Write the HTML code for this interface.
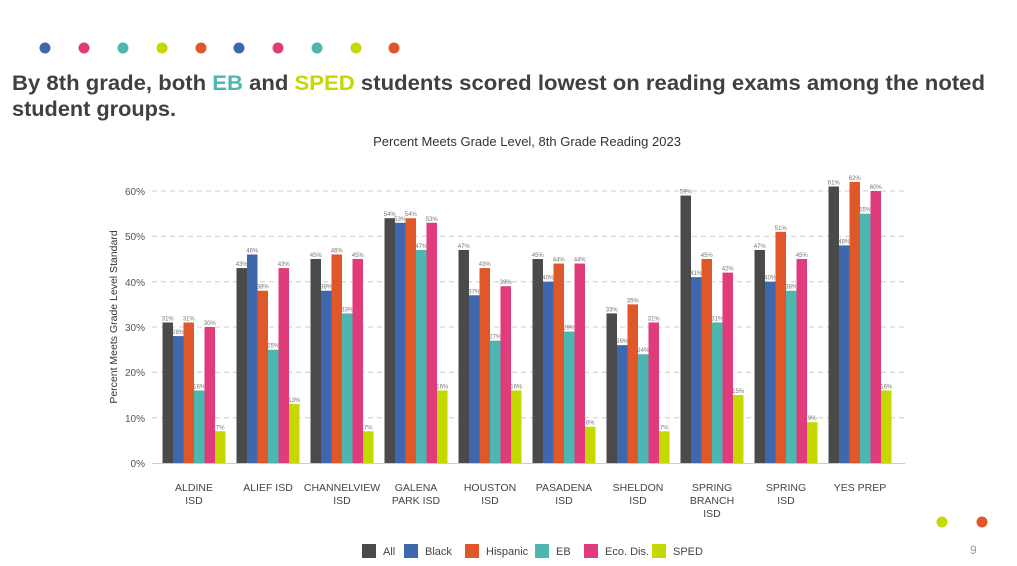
<!DOCTYPE html>
<html><head><meta charset="utf-8"><style>
html,body{margin:0;padding:0;background:#fff;}
svg{display:block;font-family:"Liberation Sans",Arial,sans-serif;}
</style></head><body>
<svg width="1017" height="566" viewBox="0 0 1017 566" xmlns="http://www.w3.org/2000/svg">
<g>
<circle cx="45" cy="48" r="5.5" fill="#3f67ad"/>
<circle cx="84" cy="48" r="5.5" fill="#e03c7b"/>
<circle cx="123" cy="48" r="5.5" fill="#4db6b0"/>
<circle cx="162" cy="48" r="5.5" fill="#c5d800"/>
<circle cx="201" cy="48" r="5.5" fill="#e0572a"/>
<circle cx="239" cy="48" r="5.5" fill="#3f67ad"/>
<circle cx="278" cy="48" r="5.5" fill="#e03c7b"/>
<circle cx="317" cy="48" r="5.5" fill="#4db6b0"/>
<circle cx="356" cy="48" r="5.5" fill="#c5d800"/>
<circle cx="394" cy="48" r="5.5" fill="#e0572a"/>
<circle cx="942" cy="522" r="5.5" fill="#c5d800"/>
<circle cx="982" cy="522" r="5.5" fill="#e0572a"/>
</g>
<text x="12" y="90" font-size="21" font-weight="bold" fill="#404040" textLength="973" lengthAdjust="spacingAndGlyphs">By 8th grade, both <tspan fill="#4db6b0">EB</tspan> and <tspan fill="#c5d800">SPED</tspan> students scored lowest on reading exams among the noted</text>
<text x="12" y="116" font-size="21" font-weight="bold" fill="#404040" textLength="164" lengthAdjust="spacingAndGlyphs">student groups.</text>
<text x="527" y="146" font-size="13" fill="#333" text-anchor="middle">Percent Meets Grade Level, 8th Grade Reading 2023</text>
<g font-size="10" fill="#555" text-anchor="end">
<text x="145" y="467">0%</text><text x="145" y="422">10%</text><text x="145" y="376">20%</text>
<text x="145" y="331">30%</text><text x="145" y="286">40%</text><text x="145" y="240">50%</text><text x="145" y="195">60%</text>
</g>
<text transform="translate(117,317) rotate(-90)" font-size="10.5" fill="#333" text-anchor="middle">Percent Meets Grade Level Standard</text>
<g stroke="#ccc" stroke-dasharray="5,4" stroke-width="1">
<line x1="152" x2="905" y1="191" y2="191"/><line x1="152" x2="905" y1="236.3" y2="236.3"/>
<line x1="152" x2="905" y1="281.7" y2="281.7"/><line x1="152" x2="905" y1="327" y2="327"/>
<line x1="152" x2="905" y1="372.3" y2="372.3"/><line x1="152" x2="905" y1="417.7" y2="417.7"/>
</g>
<line x1="152" x2="905" y1="463.5" y2="463.5" stroke="#ccc" stroke-width="1"/>
<g id="bars"></g>
<g font-size="10.5" fill="#444" text-anchor="middle" id="labels"></g>
<g font-size="11" fill="#444">
<rect x="362" y="544" width="14" height="14" fill="#4a4a4a"/><text x="383" y="555">All</text>
<rect x="404" y="544" width="14" height="14" fill="#3f67ad"/><text x="425" y="555">Black</text>
<rect x="465" y="544" width="14" height="14" fill="#e0572a"/><text x="486" y="555">Hispanic</text>
<rect x="535" y="544" width="14" height="14" fill="#4db6b0"/><text x="556" y="555">EB</text>
<rect x="584" y="544" width="14" height="14" fill="#e03c7b"/><text x="605" y="555">Eco. Dis.</text>
<rect x="652" y="544" width="14" height="14" fill="#c5d800"/><text x="673" y="555">SPED</text>
</g>
<text x="970" y="554" font-size="12" fill="#999">9</text>
</svg>
<script>
var d=[[31,28,31,16,30,7],[43,46,38,25,43,13],[45,38,46,33,45,7],[54,53,54,47,53,16],[47,37,43,27,39,16],[45,40,44,29,44,8],[33,26,35,24,31,7],[59,41,45,31,42,15],[47,40,51,38,45,9],[61,48,62,55,60,16]];
var names=[["ALDINE","ISD"],["ALIEF ISD"],["CHANNELVIEW","ISD"],["GALENA","PARK ISD"],["HOUSTON","ISD"],["PASADENA","ISD"],["SHELDON","ISD"],["SPRING","BRANCH","ISD"],["SPRING","ISD"],["YES PREP"]];
var c=["#4a4a4a","#3f67ad","#e0572a","#4db6b0","#e03c7b","#c5d800"];
var ns="http://www.w3.org/2000/svg",b=document.getElementById("bars"),l=document.getElementById("labels");
function el(t,a,p,tx){var e=document.createElementNS(ns,t);for(var k in a)e.setAttribute(k,a[k]);if(tx)e.textContent=tx;p.appendChild(e);}
for(var g=0;g<10;g++){var cx=194+74*g,x0=cx-31.5;
for(var i=0;i<6;i++){var v=d[g][i],h=v*4.533,x=x0+i*10.5;
el("rect",{x:x,y:463-h,width:10.5,height:h,fill:c[i]},b);
el("text",{x:x+5.25,y:461-h,"font-size":"6","fill":"#777","text-anchor":"middle"},b,v+"%");}
for(var j=0;j<names[g].length;j++)el("text",{x:cx,y:491+j*13},l,names[g][j]);}
</script>
</body></html>
